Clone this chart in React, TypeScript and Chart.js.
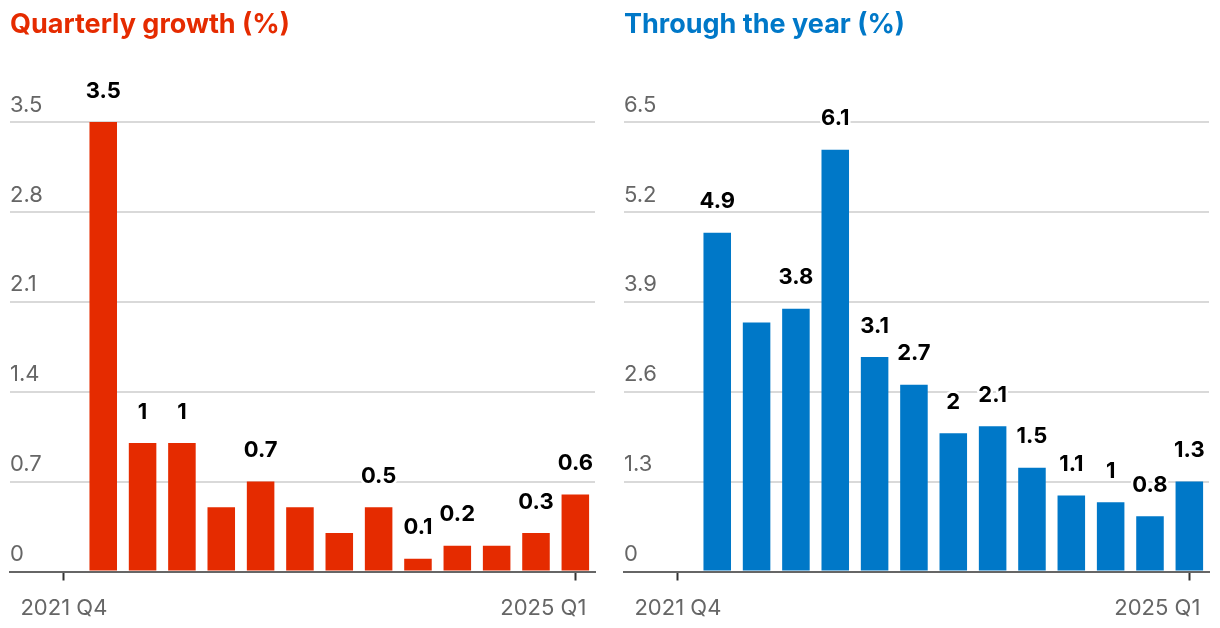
import React, { useEffect, useRef } from "react";
import { Chart, registerables } from "chart.js";

Chart.register(...registerables);

// ---- data ----
const quarters = [
  "2022 Q1", "2022 Q2", "2022 Q3", "2022 Q4",
  "2023 Q1", "2023 Q2", "2023 Q3", "2023 Q4",
  "2024 Q1", "2024 Q2", "2024 Q3", "2024 Q4",
  "2025 Q1",
];
const quarterlyGrowth = [3.5, 1, 1, 0.5, 0.7, 0.5, 0.3, 0.5, 0.1, 0.2, 0.2, 0.3, 0.6];
const quarterlyLabels = ["3.5", "1", "1", null, "0.7", null, null, "0.5", "0.1", "0.2", null, "0.3", "0.6"];
const throughYear = [4.9, 3.6, 3.8, 6.1, 3.1, 2.7, 2.0, 2.1, 1.5, 1.1, 1.0, 0.8, 1.3];
const throughYearLabels = ["4.9", null, "3.8", "6.1", "3.1", "2.7", "2", "2.1", "1.5", "1.1", "1", "0.8", "1.3"];
const quarterlyTicks = [0, 0.7, 1.4, 2.1, 2.8, 3.5];
const throughYearTicks = [0, 1.3, 2.6, 3.9, 5.2, 6.5];
// x-axis tick labels: first (the quarter before the data) and last quarter
const xTickLabels = ["2021 Q4", "2025 Q1"];

const FONT = "Inter, 'Noto Sans', sans-serif";

type PanelProps = {
  title: string;
  color: string;
  values: number[];
  labels: (string | null)[];
  yTicks: number[];
};

const valueLabelPlugin = {
  id: "valueLabels",
  beforeDraw(chart: any) {
    // keep the last x tick label inside the axis (right-aligned just past its tick)
    const scale = chart.scales.x;
    try {
      const items = scale._computeLabelItems(chart.chartArea);
      const last = items[items.length - 1];
      if (last && last.options) {
        last.options.textAlign = "right";
        last.options.translation = [last.options.translation[0] + 11, last.options.translation[1]];
      }
      scale._labelItems = items;
    } catch (e) {
      /* ignore */
    }
  },
  afterDatasetsDraw(chart: any) {
    const labels: (string | null)[] = chart.options.plugins.valueLabels.labels;
    const meta = chart.getDatasetMeta(0);
    const ctx = chart.ctx;
    ctx.save();
    ctx.font = `700 22px ${FONT}`;
    ctx.textAlign = "center";
    ctx.textBaseline = "middle";
    ctx.lineJoin = "round";
    meta.data.forEach((bar: any, i: number) => {
      const t = labels[i];
      if (!t) return;
      const y = bar.y - 31;
      ctx.strokeStyle = "#ffffff";
      ctx.lineWidth = 5;
      ctx.strokeText(t, bar.x, y);
      ctx.fillStyle = "#000000";
      ctx.fillText(t, bar.x, y);
    });
    ctx.restore();
  },
};

function Panel({ title, color, values, labels, yTicks }: PanelProps) {
  const ref = useRef<HTMLCanvasElement>(null);
  useEffect(() => {
    if (!ref.current) return;
    const n = values.length;
    const chart = new Chart(ref.current, {
      type: "bar",
      data: {
        datasets: [
          {
            data: values.map((v, i) => ({ x: i + 1, y: v })),
            backgroundColor: color,
            borderWidth: 0,
            categoryPercentage: 1,
            barPercentage: 0.7,
          },
        ],
      },
      options: {
        animation: false,
        responsive: false,
        devicePixelRatio: 1,
        layout: { padding: { left: 10, right: 10, top: 122, bottom: 0 } },
        plugins: {
          legend: { display: false },
          tooltip: { enabled: false },
          valueLabels: { labels },
        } as any,
        scales: {
          x: {
            type: "linear",
            offset: false,
            bounds: "data",
            min: -1.37,
            max: n + 0.5,
            afterBuildTicks: (scale: any) => {
              scale.ticks = [{ value: 0 }, { value: n }];
            },
            afterFit: (scale: any) => {
              scale.height = 56.5;
              scale.paddingLeft = 0;
              scale.paddingRight = 0;
            },
            ticks: {
              autoSkip: false,
              maxRotation: 0,
              padding: 15,
              color: "#666666",
              font: { family: FONT, size: 22 },
              callback: (v: any) => (v === 0 ? xTickLabels[0] : xTickLabels[1]),
            },
            grid: {
              display: true,
              offset: false,
              drawOnChartArea: false,
              drawTicks: true,
              tickLength: 9,
              tickWidth: 2,
              tickColor: "#333333",
            },
            border: { display: true, color: "#666666", width: 2 },
          },
          y: {
            min: yTicks[0],
            max: yTicks[yTicks.length - 1],
            afterBuildTicks: (scale: any) => {
              scale.ticks = yTicks.map((v) => ({ value: v }));
            },
            afterFit: (scale: any) => {
              scale.width = 0;
            },
            ticks: {
              mirror: true,
              padding: 0,
              labelOffset: -17,
              color: "#666666",
              font: { family: FONT, size: 22 },
              callback: (v: any) => String(v),
            },
            grid: {
              drawTicks: false,
              color: "#d9d9d9",
              lineWidth: 2,
            },
            border: { display: false },
          },
        },
      },
      plugins: [valueLabelPlugin],
    });
    return () => chart.destroy();
  }, []);
  return (
    <div style={{ position: "relative", width: 605, height: 628 }}>
      <div
        style={{
          position: "absolute",
          left: 10,
          top: 8,
          fontFamily: FONT,
          fontWeight: 700,
          fontSize: 27,
          lineHeight: "32px",
          color,
          whiteSpace: "nowrap",
        }}
      >
        {title}
      </div>
      <canvas ref={ref} width={605} height={628} style={{ display: "block" }} />
    </div>
  );
}

export default function App() {
  return (
    <div
      style={{
        position: "fixed",
        left: 0,
        top: 0,
        width: 1220,
        height: 628,
        background: "#ffffff",
        overflow: "hidden",
      }}
    >
      <div style={{ position: "absolute", left: 0, top: 0 }}>
        <Panel title="Quarterly growth (%)" color="#e52b00" values={quarterlyGrowth} labels={quarterlyLabels} yTicks={quarterlyTicks} />
      </div>
      <div style={{ position: "absolute", left: 614, top: 0 }}>
        <Panel title="Through the year (%)" color="#0078c8" values={throughYear} labels={throughYearLabels} yTicks={throughYearTicks} />
      </div>
    </div>
  );
}
